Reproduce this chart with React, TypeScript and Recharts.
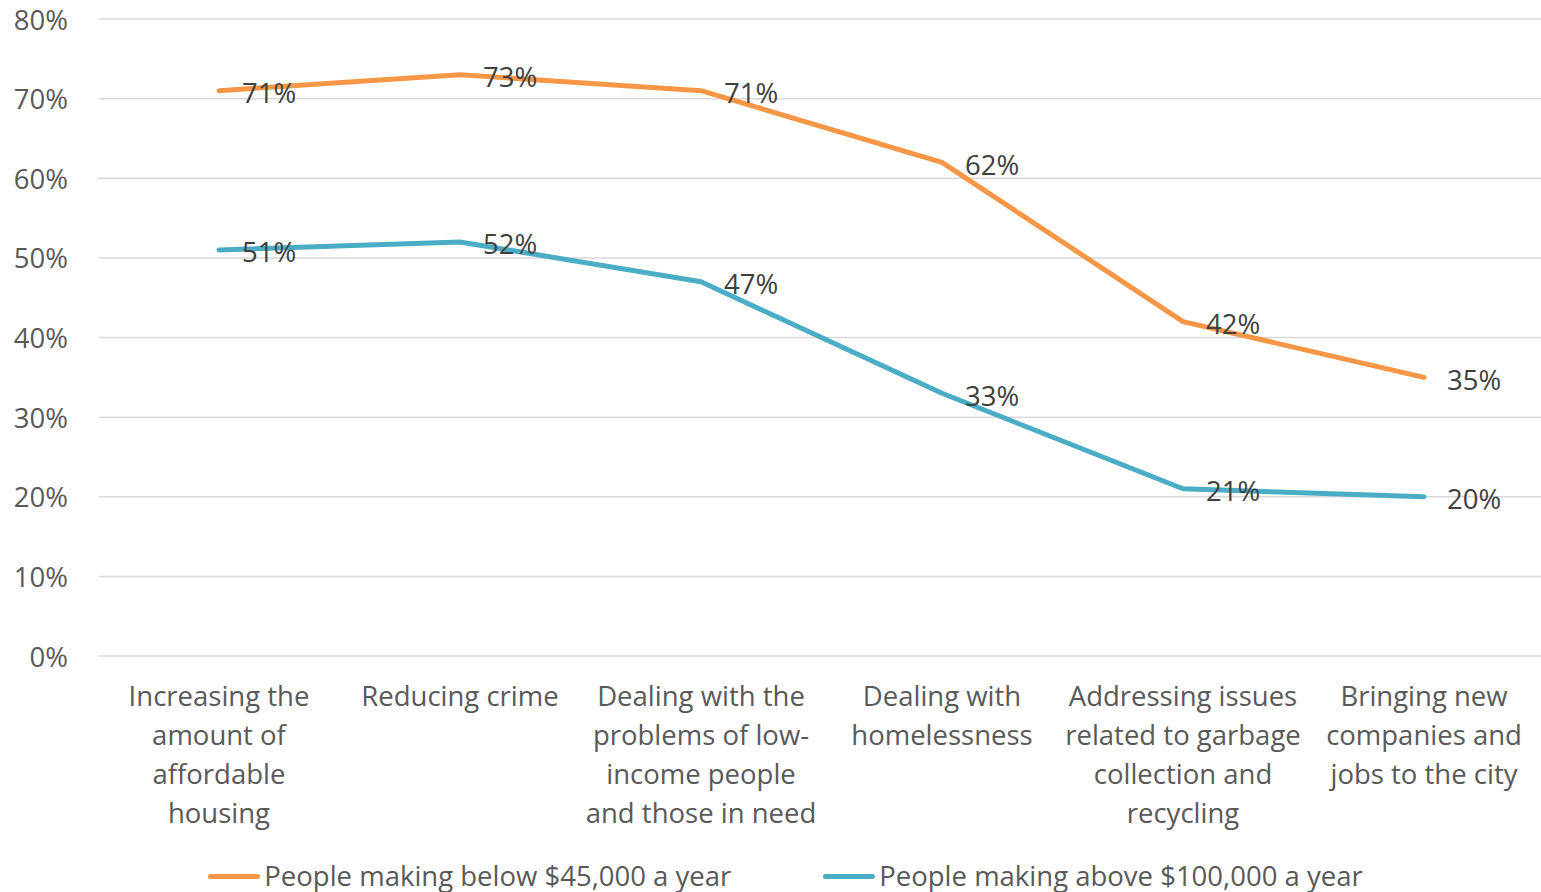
import { CartesianGrid, Legend, Line, LineChart, XAxis, YAxis, LabelList } from "recharts";

// Office-style palette from the original spreadsheet chart
const ORANGE = "#F79646";
const BLUE = "#4BACC6";
const GRID = "#d9d9d9";
const TICK = "#595959";
const LABEL = "#404040";
const FONT = "'Open Sans', Lato, sans-serif";
const FS = 27.5;

const categories = [
  "Increasing the\namount of\naffordable\nhousing",
  "Reducing crime",
  "Dealing with the\nproblems of low-\nincome people\nand those in need",
  "Dealing with\nhomelessness",
  "Addressing issues\nrelated to garbage\ncollection and\nrecycling",
  "Bringing new\ncompanies and\njobs to the city",
];
const below45k = [71, 73, 71, 62, 42, 35];
const above100k = [51, 52, 47, 33, 21, 20];
const yTicks = [0, 10, 20, 30, 40, 50, 60, 70, 80];
const seriesNames = ["People making below $45,000 a year", "People making above $100,000 a year"];

const data = categories.map((c, i) => ({ cat: c, low: below45k[i], high: above100k[i] }));

function CategoryTick({ x, y, payload }: any) {
  const lines = String(payload.value).split("\n");
  return (
    <text x={x} y={y} textAnchor="middle" fill={TICK} fontSize={FS} fontFamily={FONT}>
      {lines.map((l, i) => (
        <tspan key={i} x={x} dy={i === 0 ? 42 : 39}>
          {l}
        </tspan>
      ))}
    </text>
  );
}

function PercentTick({ y, payload }: any) {
  return (
    <text x={68} y={y} textAnchor="end" dominantBaseline="central" fill={TICK} fontSize={FS} fontFamily={FONT}>
      {payload.value}%
    </text>
  );
}

function PointLabel({ x, y, value }: any) {
  return (
    <text x={x + 23} y={y + 2} textAnchor="start" dominantBaseline="central" fill={LABEL} fontSize={FS} fontFamily={FONT}>
      {value}%
    </text>
  );
}

function LegendContent() {
  const items = [
    { name: seriesNames[0], color: ORANGE },
    { name: seriesNames[1], color: BLUE },
  ];
  return (
    <div
      style={{
        display: "flex",
        justifyContent: "center",
        gap: 92,
        paddingLeft: 30,
        marginTop: 10,
        lineHeight: "30px",
        fontFamily: FONT,
        fontSize: FS,
        color: TICK,
      }}
    >
      {items.map((it) => (
        <div key={it.name} style={{ display: "flex", alignItems: "center" }}>
          <span style={{ display: "inline-block", width: 52, height: 5, borderRadius: 3, background: it.color, marginRight: 4 }} />
          <span>{it.name}</span>
        </div>
      ))}
    </div>
  );
}

export default function App() {
  return (
    <div style={{ position: "absolute", left: 0, top: 0, background: "#fff" }}>
      <LineChart width={1541} height={892} data={data} margin={{ top: 19, right: 0, left: 0, bottom: 0 }}>
        <CartesianGrid vertical={false} stroke={GRID} strokeWidth={1.5} />
        <XAxis
          dataKey="cat"
          interval={0}
          axisLine={false}
          tickLine={false}
          height={195}
          padding={{ left: 120, right: 117 }}
          tick={<CategoryTick />}
        />
        <YAxis
          domain={[0, 80]}
          ticks={yTicks}
          width={99}
          axisLine={false}
          tickLine={false}
          tick={<PercentTick />}
        />
        <Legend verticalAlign="bottom" height={41} content={<LegendContent />} />
        <Line
          dataKey="low"
          name={seriesNames[0]}
          stroke={ORANGE}
          strokeWidth={5}
          strokeLinecap="round"
          strokeLinejoin="round"
          dot={false}
          isAnimationActive={false}
        >
          <LabelList dataKey="low" content={<PointLabel />} />
        </Line>
        <Line
          dataKey="high"
          name={seriesNames[1]}
          stroke={BLUE}
          strokeWidth={5}
          strokeLinecap="round"
          strokeLinejoin="round"
          dot={false}
          isAnimationActive={false}
        >
          <LabelList dataKey="high" content={<PointLabel />} />
        </Line>
      </LineChart>
    </div>
  );
}
